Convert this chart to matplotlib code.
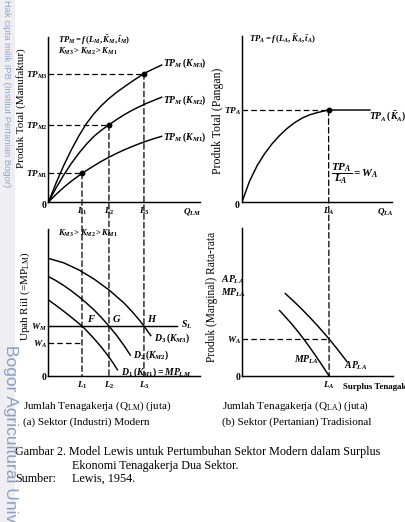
import matplotlib
matplotlib.use('Agg')
import matplotlib.pyplot as plt
from matplotlib.patches import ConnectionPatch, Rectangle

# ---------------- data (arbitrary units 0..10) ----------------
# (a) top: total product of the modern sector
L_levels = [2.21, 3.99, 6.30]                 # L1, L2, L3
TPM_levels = [1.74, 4.68, 7.78]               # TPM1, TPM2, TPM3
tpm3_x = [0, 0.5, 1.0, 1.5, 2.0, 2.5, 3.0, 3.5, 4.0, 4.5, 5.0, 5.5, 6.0, 6.3, 6.5, 7.0, 7.47]
tpm3_y = [0, 1.15, 2.2, 3.15, 4.0, 4.75, 5.35, 5.85, 6.28, 6.65, 6.98, 7.3, 7.6, 7.78, 7.88, 8.1, 8.3]
tpm2_x = [0, 0.5, 1.0, 1.5, 2.0, 2.5, 3.0, 3.5, 4.0, 4.5, 5.0, 5.5, 6.0, 6.5, 7.0, 7.47]
tpm2_y = [0, 0.85, 1.63, 2.33, 2.95, 3.5, 3.98, 4.36, 4.68, 5.0, 5.29, 5.55, 5.78, 5.99, 6.18, 6.35]
tpm1_x = [0, 0.5, 1.0, 1.5, 2.0, 2.5, 3.0, 3.5, 4.0, 4.5, 5.0, 5.5, 6.0, 6.5, 7.0, 7.47]
tpm1_y = [0, 0.46, 0.88, 1.255, 1.595, 1.905, 2.195, 2.47, 2.72, 2.95, 3.16, 3.355, 3.535, 3.7, 3.85, 3.98]
q_lm_pos = 9.47

# (b) top: total product of agriculture
tpa_x = [0, 0.5, 1.0, 1.5, 2.0, 2.5, 3.0, 3.5, 4.0, 4.5, 5.0, 5.5, 5.77, 8.53]
tpa_y = [0, 1.25, 2.175, 2.9, 3.5, 4.0, 4.425, 4.775, 5.05, 5.25, 5.38, 5.49, 5.54, 5.54]
LA = 5.77
TPA = 5.54
q_la_pos = 9.53

# (a) bottom: labour demand curves
d3_x = [0, 1, 2, 3, 4, 5, 5.5, 6.0, 6.3, 6.75]
d3_y = [8.0, 7.7, 7.22, 6.6, 5.85, 4.95, 4.4, 3.8, 3.40, 2.75]
d2_x = [0, 0.5, 1.0, 1.5, 2.0, 2.5, 3.0, 3.5, 3.99, 4.5, 5.0, 5.4]
d2_y = [6.76, 6.485, 6.16, 5.8, 5.4, 4.965, 4.5, 3.97, 3.40, 2.76, 2.05, 1.42]
d1_x = [0, 0.5, 1.0, 1.5, 2.0, 2.21, 2.5, 3.0, 3.5, 4.0, 4.3, 4.55]
d1_y = [5.17, 4.80, 4.41, 4.0, 3.58, 3.40, 3.10, 2.55, 1.95, 1.28, 0.83, 0.42]
WM = 3.40
WA_mod = 2.24
SL_end = 8.48

# (b) bottom: average and marginal product in agriculture
ap_x = [2.87, 3.5, 4.0, 4.5, 5.0, 5.5, 5.77, 6.2, 6.6, 6.95]
ap_y = [5.57, 4.975, 4.475, 3.95, 3.40, 2.82, 2.50, 1.96, 1.44, 0.975]
mp_x = [2.49, 2.8, 3.3, 3.8, 4.3, 4.8, 5.3, 5.77]
mp_y = [4.42, 4.08, 3.505, 2.88, 2.205, 1.48, 0.73, 0.0]
WA_agr = 2.50

# ---------------- style ----------------
plt.rcParams['font.family'] = ['Liberation Serif', 'DejaVu Serif']
plt.rcParams['mathtext.fontset'] = 'custom'
plt.rcParams['mathtext.it'] = 'Liberation Serif:italic:bold'
plt.rcParams['mathtext.rm'] = 'Liberation Serif:bold'
plt.rcParams['mathtext.bf'] = 'Liberation Serif:bold'
plt.rcParams['mathtext.sf'] = 'Liberation Serif'

W, H = 406, 522
fig = plt.figure(figsize=(W / 100, H / 100), dpi=100)
fig.patch.set_facecolor('white')
fig.patches.append(Rectangle((0, 0), 15 / W, 1, transform=fig.transFigure,
                             facecolor='#eeeef3', edgecolor='none', zorder=0))


def box(x0, y0, x1, y1):
    return [x0 / W, 1 - y0 / H, (x1 - x0) / W, (y0 - y1) / H]


def T(x, y, s, **kw):
    kw.setdefault('ha', 'left')
    kw.setdefault('va', 'center')
    kw.setdefault('fontsize', 7)
    fig.text(x / W, 1 - y / H, s, **kw)


LW = 1.05
DASH = (0, (4.5, 2.5))


def prep(ax):
    ax.set_xlim(0, 10)
    ax.set_ylim(0, 10)
    ax.patch.set_alpha(0)
    for s in ['top', 'right']:
        ax.spines[s].set_visible(False)
    for s in ['left', 'bottom']:
        ax.spines[s].set_linewidth(LW)
    ax.tick_params(length=0, labelsize=6.6)
    ax.set_xticks([])
    ax.set_yticks([])


axA = fig.add_axes(box(48.5, 202, 200, 37))
axB = fig.add_axes(box(242, 202, 392, 36))
axC = fig.add_axes(box(48.5, 376, 200, 229))
axD = fig.add_axes(box(242, 376, 393, 228))
for ax in (axA, axB, axC, axD):
    prep(ax)

# ---- panel A ----
for xs, ys in [(tpm3_x, tpm3_y), (tpm2_x, tpm2_y), (tpm1_x, tpm1_y)]:
    axA.plot(xs, ys, color='black', lw=LW, solid_joinstyle='round')
for L, tp in zip(L_levels, TPM_levels):
    axA.plot([0, L], [tp, tp], color='black', lw=0.9, linestyle=DASH)
    axA.plot(L, tp, 'o', color='black', ms=3.2)
    con = ConnectionPatch(xyA=(L, tp), coordsA=axA.transData,
                          xyB=(L, 0), coordsB=axC.transData,
                          color='black', lw=0.9, linestyle=DASH)
    fig.add_artist(con)
axA.set_xticks(L_levels + [q_lm_pos], [r'$L_1$', r'$L_2$', r'$L_3$', r'$Q_{LM}$'])
axA.set_yticks(TPM_levels, [r'$TP_{M1}$', r'$TP_{M2}$', r'$TP_{M3}$'])
axA.tick_params(axis='x', pad=3)
axA.tick_params(axis='y', pad=0.5)

# ---- panel B ----
axB.plot(tpa_x, tpa_y, color='black', lw=LW, solid_joinstyle='round')
axB.plot([0, LA], [TPA, TPA], color='black', lw=0.9, linestyle=DASH)
axB.plot(LA, TPA, 'o', color='black', ms=3.2)
fig.add_artist(ConnectionPatch(xyA=(LA, TPA), coordsA=axB.transData,
                               xyB=(LA, 0), coordsB=axD.transData,
                               color='black', lw=0.9, linestyle=DASH))
axB.set_xticks([LA, q_la_pos], [r'$L_A$', r'$Q_{LA}$'])
axB.set_yticks([TPA], [r'$TP_A$'])
axB.tick_params(axis='x', pad=3)
axB.tick_params(axis='y', pad=0.5)

# ---- panel C ----
for xs, ys in [(d3_x, d3_y), (d2_x, d2_y), (d1_x, d1_y)]:
    axC.plot(xs, ys, color='black', lw=LW, solid_joinstyle='round')
axC.plot([0, SL_end], [WM, WM], color='black', lw=LW)
axC.plot([0, L_levels[0]], [WA_mod, WA_mod], color='black', lw=0.9, linestyle=DASH)
axC.set_xticks(L_levels, [r'$L_1$', r'$L_2$', r'$L_3$'])
axC.set_yticks([WA_mod, WM], [r'$W_A$', r'$W_M$'])
axC.tick_params(axis='x', pad=3)
axC.tick_params(axis='y', pad=1)

# ---- panel D ----
axD.plot(ap_x, ap_y, color='black', lw=LW, solid_joinstyle='round')
axD.plot(mp_x, mp_y, color='black', lw=LW, solid_joinstyle='round')
axD.plot([0, LA], [WA_agr, WA_agr], color='black', lw=0.9, linestyle=DASH)
axD.set_xticks([LA], [r'$L_A$'])
axD.set_yticks([WA_agr], [r'$W_A$'])
axD.tick_params(axis='x', pad=3)
axD.tick_params(axis='y', pad=1)

# ---------------- texts ----------------
T(44, 206, '0', fontsize=7, fontweight='bold', ha='center')
T(237, 205, '0', fontsize=7, fontweight='bold', ha='center')
T(44, 378, '0', fontsize=7, fontweight='bold', ha='center')
T(238, 378, '0', fontsize=7, fontweight='bold', ha='center')

T(58, 40, r'$TP_M = f\,(L_M,\bar{K}_M,\bar{t}_M)$', fontsize=6.2)
T(58, 51.5, r'$K_{M3} > K_{M2} > K_{M1}$', fontsize=6.2)
T(163, 63, r'$TP_M\,(K_{M3})$')
T(163, 100, r'$TP_M\,(K_{M2})$')
T(163, 137, r'$TP_M\,(K_{M1})$')
T(21, 108, 'Produk Total (Manufaktur)', rotation=90, ha='center', fontsize=8)

T(249, 39, r'$TP_A = f\,(L_A,\bar{K}_A,\bar{t}_A)$', fontsize=6.2)
T(369, 117, r'$TP_A\,(\bar{K}_A)$')
T(331, 174, r'$\dfrac{TP_A}{L_A} = W_A$', fontsize=8)
T(218, 121, 'Produk Total (Pangan)', rotation=90, ha='center', fontsize=8.5)

T(58, 233, r'$K_{M3} > K_{M2} > K_{M1}$', fontsize=6.2)
T(87, 318, r'$F$', fontsize=7.5)
T(112, 318, r'$G$', fontsize=7.5)
T(147, 318, r'$H$', fontsize=7.5)
T(181, 325, r'$S_L$', fontsize=7)
T(154, 338, r'$D_3\,(K_{M3})$')
T(133, 355, r'$D_2\,(K_{M2})$')
T(121, 372, r'$D_1\,(K_{M1}) = MP_{LM}$')
T(25, 296, r'Upah Riil (=MP$_{\mathsf{LM}}$)', rotation=90, ha='center', fontsize=8)

T(221, 280, r'$AP_{LA}$')
T(221, 293, r'$MP_{LA}$')
T(294, 360, r'$MP_{LA}$')
T(344, 366, r'$AP_{LA}$')
T(343, 387, 'Surplus Tenagakerja', fontsize=6.3, fontweight='bold')
T(212, 297, 'Produk (Marginal) Rata-rata', rotation=90, ha='center', fontsize=8.3)

T(23, 406, r'Jumlah Tenagakerja (Q$_{\mathsf{LM}}$) (juta)', fontsize=8)
T(23, 422, '(a) Sektor (Industri) Modern', fontsize=8)
T(222, 406, r'Jumlah Tenagakerja (Q$_{\mathsf{LA}}$) (juta)', fontsize=8)
T(222, 422, '(b) Sektor (Pertanian) Tradisional', fontsize=8)
T(15, 452, 'Gambar 2. Model Lewis untuk Pertumbuhan Sektor Modern dalam Surplus', fontsize=8.7)
T(72, 466, 'Ekonomi Tenagakerja Dua Sektor.', fontsize=8.7)
T(15, 479, 'Sumber:', fontsize=8.7)
T(72, 479, 'Lewis, 1954.', fontsize=8.7)

# watermark
T(6, 0, 'Hak cipta milik IPB (Institut Pertanian Bogor)', rotation=-90, ha='center',
  va='top', fontsize=6.8, family='Liberation Sans', color='#93a6cc')
T(10, 345, 'Bogor Agricultural University', rotation=-90, ha='center', va='top',
  fontsize=12.5, family='Liberation Sans', color='#8c9fc0')

fig.savefig('out.png', dpi=100)
